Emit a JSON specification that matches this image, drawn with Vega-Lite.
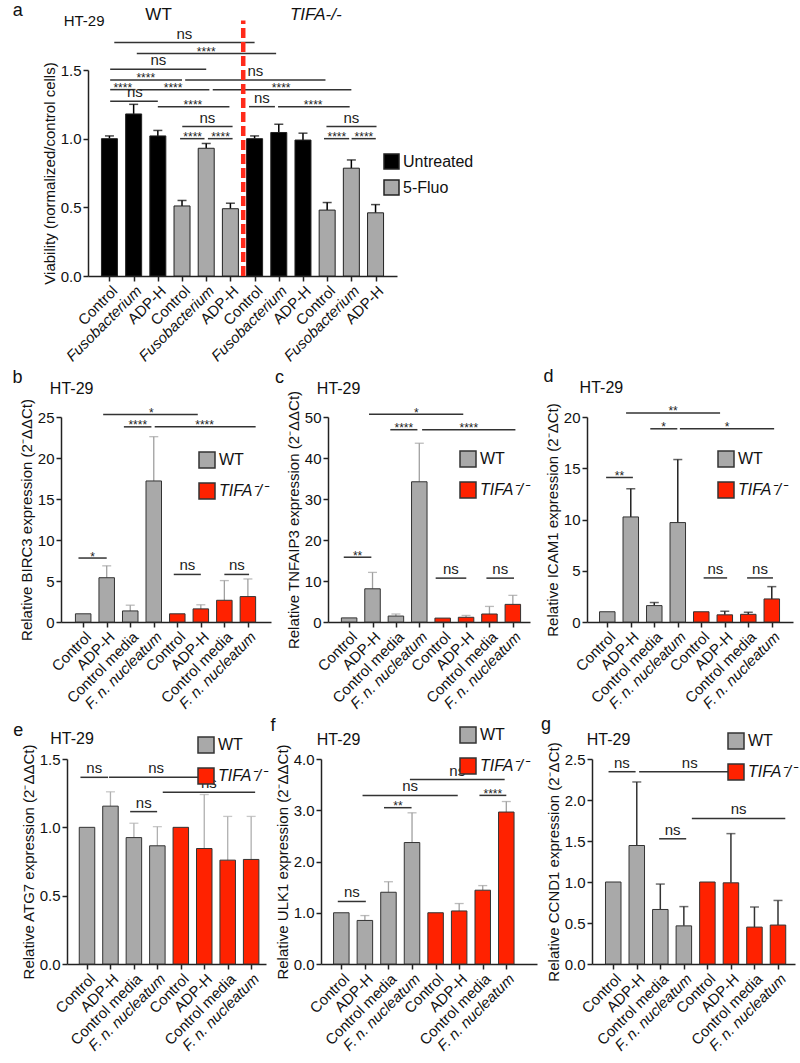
{
"$schema":"https://vega.github.io/schema/vega-lite/v6.json",
"padding":{"left":3,"top":2,"right":3,"bottom":5},
"config":{"view":{"stroke":null},"font":"Liberation Sans",
"axis":{"domainColor":"#222","domainWidth":1.5,"tickColor":"#222","tickWidth":1.5,"tickSize":5,"labelColor":"#111","labelFontSize":15,"titleFontSize":15,"titleFontWeight":"normal","titleColor":"#111","labelPadding":2,"grid":false},
"axisX":{"labelOverlap":false,"labelSeparation":-100,"tickCount":20},
"text":{"color":"#111"}},
"datasets":{
"a":[
{"i":1,"cond":"Control","geno":"WT","trt":"Untreated","mean":1.0,"upper":1.02},
{"i":2,"cond":"Fusobacterium","geno":"WT","trt":"Untreated","mean":1.18,"upper":1.25},
{"i":3,"cond":"ADP-H","geno":"WT","trt":"Untreated","mean":1.02,"upper":1.06},
{"i":4,"cond":"Control","geno":"WT","trt":"5-Fluo","mean":0.51,"upper":0.55},
{"i":5,"cond":"Fusobacterium","geno":"WT","trt":"5-Fluo","mean":0.93,"upper":0.965},
{"i":6,"cond":"ADP-H","geno":"WT","trt":"5-Fluo","mean":0.49,"upper":0.53},
{"i":7,"cond":"Control","geno":"TIFA-/-","trt":"Untreated","mean":1.0,"upper":1.02},
{"i":8,"cond":"Fusobacterium","geno":"TIFA-/-","trt":"Untreated","mean":1.045,"upper":1.105},
{"i":9,"cond":"ADP-H","geno":"TIFA-/-","trt":"Untreated","mean":0.99,"upper":1.04},
{"i":10,"cond":"Control","geno":"TIFA-/-","trt":"5-Fluo","mean":0.48,"upper":0.535},
{"i":11,"cond":"Fusobacterium","geno":"TIFA-/-","trt":"5-Fluo","mean":0.785,"upper":0.845},
{"i":12,"cond":"ADP-H","geno":"TIFA-/-","trt":"5-Fluo","mean":0.46,"upper":0.52}],
"a_sig":[
{"x1":1.2,"x2":7.0,"xm":4.1,"y":1.70,"label":"ns"},
{"x1":2.13,"x2":7.89,"xm":5.0,"y":1.62,"label":"****"},
{"x1":1.03,"x2":5.0,"xm":3.02,"y":1.505,"label":"ns"},
{"x1":1.03,"x2":4.0,"xm":2.5,"y":1.428,"label":"****"},
{"x1":4.13,"x2":9.93,"xm":7.03,"y":1.428,"label":"ns"},
{"x1":1.03,"x2":2.08,"xm":1.55,"y":1.357,"label":"****"},
{"x1":2.2,"x2":5.13,"xm":3.63,"y":1.357,"label":"****"},
{"x1":5.27,"x2":11.0,"xm":8.1,"y":1.357,"label":"****"},
{"x1":1.03,"x2":3.0,"xm":2.05,"y":1.272,"label":"ns"},
{"x1":3.0,"x2":5.96,"xm":4.45,"y":1.233,"label":"****"},
{"x1":6.77,"x2":7.84,"xm":7.3,"y":1.233,"label":"ns"},
{"x1":7.97,"x2":10.93,"xm":9.42,"y":1.233,"label":"****"},
{"x1":4.01,"x2":6.09,"xm":5.05,"y":1.088,"label":"ns"},
{"x1":3.92,"x2":4.93,"xm":4.44,"y":1.0,"label":"****"},
{"x1":5.07,"x2":6.09,"xm":5.59,"y":1.0,"label":"****"},
{"x1":9.97,"x2":12.04,"xm":11.0,"y":1.088,"label":"ns"},
{"x1":9.87,"x2":10.91,"xm":10.4,"y":1.0,"label":"****"},
{"x1":11.01,"x2":12.01,"xm":11.52,"y":1.0,"label":"****"}],
"b":[
{"i":1,"cond":"Control","geno":"WT","mean":1.0},
{"i":2,"cond":"ADP-H","geno":"WT","mean":5.4,"upper":6.85},
{"i":3,"cond":"Control media","geno":"WT","mean":1.35,"upper":2.05},
{"i":4,"cond":"F. n. nucleatum","geno":"WT","mean":17.2,"upper":22.6},
{"i":5,"cond":"Control","geno":"TIFA-/-","mean":1.0},
{"i":6,"cond":"ADP-H","geno":"TIFA-/-","mean":1.6,"upper":2.1},
{"i":7,"cond":"Control media","geno":"TIFA-/-","mean":2.65,"upper":5.05},
{"i":8,"cond":"F. n. nucleatum","geno":"TIFA-/-","mean":3.1,"upper":5.25}],
"b_sig":[
{"x1":0.8,"x2":2.0,"xm":1.4,"y":7.8,"label":"*"},
{"x1":4.85,"x2":6.0,"xm":5.43,"y":5.8,"label":"ns"},
{"x1":7.0,"x2":8.05,"xm":7.53,"y":5.8,"label":"ns"},
{"x1":1.85,"x2":5.87,"xm":3.9,"y":25.3,"label":"*"},
{"x1":2.73,"x2":3.9,"xm":3.32,"y":23.8,"label":"****"},
{"x1":4.04,"x2":8.33,"xm":6.16,"y":23.8,"label":"****"}],
"c":[
{"i":1,"cond":"Control","geno":"WT","mean":1.0},
{"i":2,"cond":"ADP-H","geno":"WT","mean":8.1,"upper":12.1},
{"i":3,"cond":"Control media","geno":"WT","mean":1.45,"upper":1.95},
{"i":4,"cond":"F. n. nucleatum","geno":"WT","mean":34.2,"upper":43.6},
{"i":5,"cond":"Control","geno":"TIFA-/-","mean":0.95},
{"i":6,"cond":"ADP-H","geno":"TIFA-/-","mean":1.15,"upper":1.6},
{"i":7,"cond":"Control media","geno":"TIFA-/-","mean":1.95,"upper":3.8},
{"i":8,"cond":"F. n. nucleatum","geno":"TIFA-/-","mean":4.3,"upper":6.5}],
"c_sig":[
{"x1":0.77,"x2":1.95,"xm":1.36,"y":15.8,"label":"**"},
{"x1":4.7,"x2":6.01,"xm":5.35,"y":10.7,"label":"ns"},
{"x1":6.87,"x2":8.05,"xm":7.46,"y":10.7,"label":"ns"},
{"x1":1.85,"x2":5.88,"xm":3.87,"y":50.7,"label":"*"},
{"x1":2.76,"x2":3.92,"xm":3.34,"y":46.9,"label":"****"},
{"x1":4.12,"x2":8.11,"xm":6.12,"y":46.9,"label":"****"}],
"d":[
{"i":1,"cond":"Control","geno":"WT","mean":1.0},
{"i":2,"cond":"ADP-H","geno":"WT","mean":10.25,"upper":13.0},
{"i":3,"cond":"Control media","geno":"WT","mean":1.6,"upper":1.9},
{"i":4,"cond":"F. n. nucleatum","geno":"WT","mean":9.7,"upper":15.85},
{"i":5,"cond":"Control","geno":"TIFA-/-","mean":1.0},
{"i":6,"cond":"ADP-H","geno":"TIFA-/-","mean":0.7,"upper":1.05},
{"i":7,"cond":"Control media","geno":"TIFA-/-","mean":0.75,"upper":0.95},
{"i":8,"cond":"F. n. nucleatum","geno":"TIFA-/-","mean":2.25,"upper":3.45}],
"d_sig":[
{"x1":0.95,"x2":2.09,"xm":1.52,"y":14.1,"label":"**"},
{"x1":5.1,"x2":6.1,"xm":5.6,"y":4.3,"label":"ns"},
{"x1":6.95,"x2":8.05,"xm":7.5,"y":4.3,"label":"ns"},
{"x1":1.8,"x2":5.8,"xm":3.8,"y":20.4,"label":"**"},
{"x1":2.83,"x2":3.98,"xm":3.4,"y":18.85,"label":"*"},
{"x1":4.09,"x2":8.1,"xm":6.1,"y":18.85,"label":"*"}],
"e":[
{"i":1,"cond":"Control","geno":"WT","mean":1.0},
{"i":2,"cond":"ADP-H","geno":"WT","mean":1.155,"upper":1.26},
{"i":3,"cond":"Control media","geno":"WT","mean":0.925,"upper":1.03},
{"i":4,"cond":"F. n. nucleatum","geno":"WT","mean":0.865,"upper":1.005},
{"i":5,"cond":"Control","geno":"TIFA-/-","mean":1.0},
{"i":6,"cond":"ADP-H","geno":"TIFA-/-","mean":0.845,"upper":1.24},
{"i":7,"cond":"Control media","geno":"TIFA-/-","mean":0.76,"upper":1.08},
{"i":8,"cond":"F. n. nucleatum","geno":"TIFA-/-","mean":0.765,"upper":1.08}],
"e_sig":[
{"x1":0.72,"x2":1.9,"xm":1.31,"y":1.366,"label":"ns"},
{"x1":1.94,"x2":5.95,"xm":3.95,"y":1.366,"label":"ns"},
{"x1":4.23,"x2":8.17,"xm":6.2,"y":1.256,"label":"ns"},
{"x1":2.84,"x2":3.99,"xm":3.42,"y":1.115,"label":"ns"}],
"f":[
{"i":1,"cond":"Control","geno":"WT","mean":1.0},
{"i":2,"cond":"ADP-H","geno":"WT","mean":0.85,"upper":0.945},
{"i":3,"cond":"Control media","geno":"WT","mean":1.4,"upper":1.605},
{"i":4,"cond":"F. n. nucleatum","geno":"WT","mean":2.37,"upper":2.95},
{"i":5,"cond":"Control","geno":"TIFA-/-","mean":1.0},
{"i":6,"cond":"ADP-H","geno":"TIFA-/-","mean":1.035,"upper":1.18},
{"i":7,"cond":"Control media","geno":"TIFA-/-","mean":1.44,"upper":1.53},
{"i":8,"cond":"F. n. nucleatum","geno":"TIFA-/-","mean":2.965,"upper":3.17}],
"f_sig":[
{"x1":0.85,"x2":2.04,"xm":1.45,"y":1.22,"label":"ns"},
{"x1":2.81,"x2":3.98,"xm":3.4,"y":3.05,"label":"**"},
{"x1":1.9,"x2":5.94,"xm":3.92,"y":3.29,"label":"ns"},
{"x1":6.86,"x2":8.0,"xm":7.43,"y":3.29,"label":"****"},
{"x1":3.91,"x2":7.93,"xm":5.92,"y":3.6,"label":"ns"}],
"g":[
{"i":1,"cond":"Control","geno":"WT","mean":1.0},
{"i":2,"cond":"ADP-H","geno":"WT","mean":1.445,"upper":2.22},
{"i":3,"cond":"Control media","geno":"WT","mean":0.665,"upper":0.975},
{"i":4,"cond":"F. n. nucleatum","geno":"WT","mean":0.465,"upper":0.7},
{"i":5,"cond":"Control","geno":"TIFA-/-","mean":1.0},
{"i":6,"cond":"ADP-H","geno":"TIFA-/-","mean":0.99,"upper":1.59},
{"i":7,"cond":"Control media","geno":"TIFA-/-","mean":0.45,"upper":0.695},
{"i":8,"cond":"F. n. nucleatum","geno":"TIFA-/-","mean":0.475,"upper":0.775}],
"g_sig":[
{"x1":2.95,"x2":4.1,"xm":3.52,"y":1.527,"label":"ns"},
{"x1":4.34,"x2":8.31,"xm":6.33,"y":1.775,"label":"ns"},
{"x1":0.8,"x2":1.95,"xm":1.37,"y":2.345,"label":"ns"},
{"x1":2.1,"x2":6.4,"xm":4.25,"y":2.345,"label":"ns"}],
"empty":[]
},
"spacing":4,
"resolve":{"scale":{"color":"independent"},"legend":{"color":"independent"}},
"vconcat":[
{"hconcat":[
{"width":28,"height":1,"data":{"name":"empty"},"mark":{"type":"point","opacity":0},"encoding":{}},
{"width":309,"height":206,
"layer":[
{"data":{"name":"a"},"mark":{"type":"rule","color":"#000","strokeWidth":1.5},
"encoding":{"x":{"field":"i","type":"quantitative","scale":{"domain":[0.32,12.68],"nice":false,"zero":false},
"axis":{"title":null,"values":[1,2,3,4,5,6,7,8,9,10,11,12],"tickCount":20,"labelExpr":"['','Control','Fusobacterium','ADP-H','Control','Fusobacterium','ADP-H','Control','Fusobacterium','ADP-H','Control','Fusobacterium','ADP-H'][datum.value]","labelAngle":-45,"labelAlign":"right","labelBaseline":"top","labelFontSize":15,"labelFontStyle":{"condition":{"test":"datum.value==2||datum.value==5||datum.value==8||datum.value==11","value":"italic"},"value":"normal"},"labelFlush":false,"labelOverlap":false,"labelSeparation":-100}},
"y":{"field":"mean","type":"quantitative","scale":{"domain":[0,1.5],"nice":false},"axis":{"title":"Viability (normalized/control cells)","values":[0,0.5,1,1.5],"format":".1f","titlePadding":3}},
"y2":{"field":"upper"}}},
{"data":{"name":"a"},"mark":{"type":"tick","orient":"horizontal","color":"#000","size":9,"thickness":1.5},
"encoding":{"x":{"field":"i","type":"quantitative","scale":{"domain":[0.32,12.68],"nice":false,"zero":false}},"y":{"field":"upper","type":"quantitative","scale":{"domain":[0,1.5],"nice":false}}}},
{"data":{"name":"a"},"mark":{"type":"bar","width":16,"stroke":"#222","strokeWidth":1},
"encoding":{"x":{"field":"i","type":"quantitative","scale":{"domain":[0.32,12.68],"nice":false,"zero":false}},"y":{"field":"mean","type":"quantitative","scale":{"domain":[0,1.5],"nice":false}},
"color":{"field":"trt","type":"nominal","scale":{"domain":["Untreated","5-Fluo"],"range":["#000000","#a9a9a9"]},
"legend":{"orient":"none","legendX":295,"legendY":83,"title":null,"symbolType":"square","symbolSize":225,"symbolStrokeColor":"#222","symbolStrokeWidth":1.5,"labelFontSize":16,"labelOffset":3,"rowPadding":5,"padding":0,"labelColor":"#111"}}}},
{"data":{"name":"a_sig"},"mark":{"type":"rule","color":"#333","strokeWidth":1.5},
"encoding":{"x":{"field":"x1","type":"quantitative","scale":{"domain":[0.32,12.68],"nice":false,"zero":false}},"x2":{"field":"x2"},"y":{"field":"y","type":"quantitative","scale":{"domain":[0,1.5],"nice":false}}}},
{"data":{"name":"a_sig"},"transform":[{"filter":"datum.label=='ns'"}],"mark":{"type":"text","fontSize":15,"baseline":"alphabetic","dy":-4,"color":"#222"},
"encoding":{"x":{"field":"xm","type":"quantitative","scale":{"domain":[0.32,12.68],"nice":false,"zero":false}},"y":{"field":"y","type":"quantitative","scale":{"domain":[0,1.5],"nice":false}},"text":{"field":"label"}}},
{"data":{"name":"a_sig"},"transform":[{"filter":"datum.label!='ns'"}],"mark":{"type":"text","fontSize":12,"baseline":"alphabetic","dy":2.5,"color":"#222"},
"encoding":{"x":{"field":"xm","type":"quantitative","scale":{"domain":[0.32,12.68],"nice":false,"zero":false}},"y":{"field":"y","type":"quantitative","scale":{"domain":[0,1.5],"nice":false}},"text":{"field":"label"}}},
{"data":{"values":[{"x":6.53,"y0":0,"y1":1.86}]},"mark":{"type":"rule","color":"#ff2a1a","strokeWidth":4.5,"strokeDash":[10,4]},
"encoding":{"x":{"field":"x","type":"quantitative","scale":{"domain":[0.32,12.68],"nice":false,"zero":false}},"y":{"field":"y0","type":"quantitative","scale":{"domain":[0,1.5],"nice":false}},"y2":{"field":"y1"}}},
{"data":{"values":[{"x":3.03,"y":1.90,"t":"WT"}]},"mark":{"type":"text","fontSize":17,"baseline":"middle"},
"encoding":{"x":{"field":"x","type":"quantitative","scale":{"domain":[0.32,12.68],"nice":false,"zero":false}},"y":{"field":"y","type":"quantitative","scale":{"domain":[0,1.5],"nice":false}},"text":{"field":"t"}}},
{"data":{"values":[{"x":9.53,"y":1.90,"t":"TIFA-/-"}]},"mark":{"type":"text","fontSize":17,"fontStyle":"italic","baseline":"middle"},
"encoding":{"x":{"field":"x","type":"quantitative","scale":{"domain":[0.32,12.68],"nice":false,"zero":false}},"y":{"field":"y","type":"quantitative","scale":{"domain":[0,1.5],"nice":false}},"text":{"field":"t"}}},
{"data":{"values":[{"x":-0.05,"y":1.86,"t":"HT-29"}]},"mark":{"type":"text","fontSize":15,"baseline":"middle"},
"encoding":{"x":{"field":"x","type":"quantitative","scale":{"domain":[0.32,12.68],"nice":false,"zero":false}},"y":{"field":"y","type":"quantitative","scale":{"domain":[0,1.5],"nice":false}},"text":{"field":"t"}}},
{"data":{"values":[{"x":-3.0,"y":1.89,"t":"a"}]},"mark":{"type":"text","fontSize":18,"align":"left","baseline":"alphabetic"},
"encoding":{"x":{"field":"x","type":"quantitative","scale":{"domain":[0.32,12.68],"nice":false,"zero":false}},"y":{"field":"y","type":"quantitative","scale":{"domain":[0,1.5],"nice":false}},"text":{"field":"t"}}}
]}
],"spacing":57,"bounds":"flush","resolve":{"scale":{"color":"independent"},"legend":{"color":"independent"}}},
{"hconcat":[
{"width":1,"height":1,"data":{"name":"empty"},"mark":{"type":"point","opacity":0},"encoding":{}},
{"width":210,"height":205,"layer":[
{"data":{"name":"b"},"transform":[{"filter":"isValid(datum.upper)"}],"mark":{"type":"rule","color":"#a0a0a0","strokeWidth":1.3},
"encoding":{"x":{"field":"i","type":"quantitative","scale":{"domain":[0.27,8.77],"nice":false,"zero":false},
"axis":{"title":null,"values":[1,2,3,4,5,6,7,8],"tickCount":20,"labelExpr":"['','Control','ADP-H','Control media','F. n. nucleatum','Control','ADP-H','Control media','F. n. nucleatum'][datum.value]","labelAngle":-45,"labelAlign":"right","labelBaseline":"top","labelFontSize":15,"labelFontStyle":{"condition":{"test":"datum.value==4||datum.value==8","value":"italic"},"value":"normal"},"labelFlush":false,"labelOverlap":false,"labelSeparation":-100}},
"y":{"field":"mean","type":"quantitative","scale":{"domain":[0,25],"nice":false},"axis":{"title":"Relative BIRC3 expression (2⁻ΔΔCt)","values":[0,5,10,15,20,25],"titlePadding":3}},
"y2":{"field":"upper"}}},
{"data":{"name":"b"},"transform":[{"filter":"isValid(datum.upper)"}],"mark":{"type":"tick","orient":"horizontal","color":"#a0a0a0","size":9,"thickness":1.3},
"encoding":{"x":{"field":"i","type":"quantitative","scale":{"domain":[0.27,8.77],"nice":false,"zero":false}},"y":{"field":"upper","type":"quantitative","scale":{"domain":[0,25],"nice":false}}}},
{"data":{"name":"b"},"mark":{"type":"bar","width":15.5,"stroke":"#333","strokeWidth":1},
"encoding":{"x":{"field":"i","type":"quantitative","scale":{"domain":[0.27,8.77],"nice":false,"zero":false}},"y":{"field":"mean","type":"quantitative","scale":{"domain":[0,25],"nice":false}},
"color":{"field":"geno","type":"nominal","scale":{"domain":["WT","TIFA-/-"],"range":["#a9a9a9","#ff2200"]},
"legend":{"orient":"none","legendX":137,"legendY":34,"title":null,"symbolType":"square","symbolSize":256,"symbolStrokeColor":"#333","symbolStrokeWidth":1.5,"labelFontSize":16,"labelOffset":3,"rowPadding":9,"padding":0,"labelColor":"#111","labelExpr":"datum.value == 'WT' ? 'WT' : 'TIFA⁻/⁻'","encode":{"labels":{"update":{"fontStyle":{"signal":"datum.value == 'WT' ? 'normal' : 'italic'"}}}}}}}},
{"data":{"name":"b_sig"},"mark":{"type":"rule","color":"#333","strokeWidth":1.5},
"encoding":{"x":{"field":"x1","type":"quantitative","scale":{"domain":[0.27,8.77],"nice":false,"zero":false}},"x2":{"field":"x2"},"y":{"field":"y","type":"quantitative","scale":{"domain":[0,25],"nice":false}}}},
{"data":{"name":"b_sig"},"transform":[{"filter":"datum.label=='ns'"}],"mark":{"type":"text","fontSize":15,"baseline":"alphabetic","dy":-4,"color":"#222"},
"encoding":{"x":{"field":"xm","type":"quantitative","scale":{"domain":[0.27,8.77],"nice":false,"zero":false}},"y":{"field":"y","type":"quantitative","scale":{"domain":[0,25],"nice":false}},"text":{"field":"label"}}},
{"data":{"name":"b_sig"},"transform":[{"filter":"datum.label!='ns'"}],"mark":{"type":"text","fontSize":12,"baseline":"alphabetic","dy":2.5,"color":"#222"},
"encoding":{"x":{"field":"xm","type":"quantitative","scale":{"domain":[0.27,8.77],"nice":false,"zero":false}},"y":{"field":"y","type":"quantitative","scale":{"domain":[0,25],"nice":false}},"text":{"field":"label"}}},
{"data":{"values":[{"x":0.51,"y":28.4,"t":"HT-29"}]},"mark":{"type":"text","fontSize":16,"baseline":"middle"},
"encoding":{"x":{"field":"x","type":"quantitative","scale":{"domain":[0.27,8.77],"nice":false,"zero":false}},"y":{"field":"y","type":"quantitative","scale":{"domain":[0,25],"nice":false}},"text":{"field":"t"}}},
{"data":{"values":[{"x":-2.0,"y":29.12,"t":"b"}]},"mark":{"type":"text","fontSize":18,"align":"left","baseline":"alphabetic"},
"encoding":{"x":{"field":"x","type":"quantitative","scale":{"domain":[0.27,8.77],"nice":false,"zero":false}},"y":{"field":"y","type":"quantitative","scale":{"domain":[0,25],"nice":false}},"text":{"field":"t"}}}
]},
{"width":202,"height":205,"layer":[
{"data":{"name":"c"},"transform":[{"filter":"isValid(datum.upper)"}],"mark":{"type":"rule","color":"#a0a0a0","strokeWidth":1.3},
"encoding":{"x":{"field":"i","type":"quantitative","scale":{"domain":[0.31,8.52],"nice":false,"zero":false},
"axis":{"title":null,"values":[1,2,3,4,5,6,7,8],"tickCount":20,"labelExpr":"['','Control','ADP-H','Control media','F. n. nucleatum','Control','ADP-H','Control media','F. n. nucleatum'][datum.value]","labelAngle":-45,"labelAlign":"right","labelBaseline":"top","labelFontSize":15,"labelFontStyle":{"condition":{"test":"datum.value==4||datum.value==8","value":"italic"},"value":"normal"},"labelFlush":false,"labelOverlap":false,"labelSeparation":-100}},
"y":{"field":"mean","type":"quantitative","scale":{"domain":[0,50],"nice":false},"axis":{"title":"Relative TNFAIP3 expression (2⁻ΔΔCt)","values":[0,10,20,30,40,50],"titlePadding":3}},
"y2":{"field":"upper"}}},
{"data":{"name":"c"},"transform":[{"filter":"isValid(datum.upper)"}],"mark":{"type":"tick","orient":"horizontal","color":"#a0a0a0","size":9,"thickness":1.3},
"encoding":{"x":{"field":"i","type":"quantitative","scale":{"domain":[0.31,8.52],"nice":false,"zero":false}},"y":{"field":"upper","type":"quantitative","scale":{"domain":[0,50],"nice":false}}}},
{"data":{"name":"c"},"mark":{"type":"bar","width":15.5,"stroke":"#333","strokeWidth":1},
"encoding":{"x":{"field":"i","type":"quantitative","scale":{"domain":[0.31,8.52],"nice":false,"zero":false}},"y":{"field":"mean","type":"quantitative","scale":{"domain":[0,50],"nice":false}},
"color":{"field":"geno","type":"nominal","scale":{"domain":["WT","TIFA-/-"],"range":["#a9a9a9","#ff2200"]},
"legend":{"orient":"none","legendX":131,"legendY":33,"title":null,"symbolType":"square","symbolSize":256,"symbolStrokeColor":"#333","symbolStrokeWidth":1.5,"labelFontSize":16,"labelOffset":3,"rowPadding":9,"padding":0,"labelColor":"#111","labelExpr":"datum.value == 'WT' ? 'WT' : 'TIFA⁻/⁻'","encode":{"labels":{"update":{"fontStyle":{"signal":"datum.value == 'WT' ? 'normal' : 'italic'"}}}}}}}},
{"data":{"name":"c_sig"},"mark":{"type":"rule","color":"#333","strokeWidth":1.5},
"encoding":{"x":{"field":"x1","type":"quantitative","scale":{"domain":[0.31,8.52],"nice":false,"zero":false}},"x2":{"field":"x2"},"y":{"field":"y","type":"quantitative","scale":{"domain":[0,50],"nice":false}}}},
{"data":{"name":"c_sig"},"transform":[{"filter":"datum.label=='ns'"}],"mark":{"type":"text","fontSize":15,"baseline":"alphabetic","dy":-4,"color":"#222"},
"encoding":{"x":{"field":"xm","type":"quantitative","scale":{"domain":[0.31,8.52],"nice":false,"zero":false}},"y":{"field":"y","type":"quantitative","scale":{"domain":[0,50],"nice":false}},"text":{"field":"label"}}},
{"data":{"name":"c_sig"},"transform":[{"filter":"datum.label!='ns'"}],"mark":{"type":"text","fontSize":12,"baseline":"alphabetic","dy":2.5,"color":"#222"},
"encoding":{"x":{"field":"xm","type":"quantitative","scale":{"domain":[0.31,8.52],"nice":false,"zero":false}},"y":{"field":"y","type":"quantitative","scale":{"domain":[0,50],"nice":false}},"text":{"field":"label"}}},
{"data":{"values":[{"x":0.55,"y":56.8,"t":"HT-29"}]},"mark":{"type":"text","fontSize":16,"baseline":"middle"},
"encoding":{"x":{"field":"x","type":"quantitative","scale":{"domain":[0.31,8.52],"nice":false,"zero":false}},"y":{"field":"y","type":"quantitative","scale":{"domain":[0,50],"nice":false}},"text":{"field":"t"}}},
{"data":{"values":[{"x":-2.17,"y":58.25,"t":"c"}]},"mark":{"type":"text","fontSize":18,"align":"left","baseline":"alphabetic"},
"encoding":{"x":{"field":"x","type":"quantitative","scale":{"domain":[0.31,8.52],"nice":false,"zero":false}},"y":{"field":"y","type":"quantitative","scale":{"domain":[0,50],"nice":false}},"text":{"field":"t"}}}
]},
{"width":206,"height":205,"layer":[
{"data":{"name":"d"},"transform":[{"filter":"isValid(datum.upper)"}],"mark":{"type":"rule","color":"#222","strokeWidth":1.5},
"encoding":{"x":{"field":"i","type":"quantitative","scale":{"domain":[0.35,8.69],"nice":false,"zero":false},
"axis":{"title":null,"values":[1,2,3,4,5,6,7,8],"tickCount":20,"labelExpr":"['','Control','ADP-H','Control media','F. n. nucleatum','Control','ADP-H','Control media','F. n. nucleatum'][datum.value]","labelAngle":-45,"labelAlign":"right","labelBaseline":"top","labelFontSize":15,"labelFontStyle":{"condition":{"test":"datum.value==4||datum.value==8","value":"italic"},"value":"normal"},"labelFlush":false,"labelOverlap":false,"labelSeparation":-100}},
"y":{"field":"mean","type":"quantitative","scale":{"domain":[0,20],"nice":false},"axis":{"title":"Relative ICAM1 expression (2⁻ΔCt)","values":[0,5,10,15,20],"titlePadding":3}},
"y2":{"field":"upper"}}},
{"data":{"name":"d"},"transform":[{"filter":"isValid(datum.upper)"}],"mark":{"type":"tick","orient":"horizontal","color":"#222","size":9,"thickness":1.5},
"encoding":{"x":{"field":"i","type":"quantitative","scale":{"domain":[0.35,8.69],"nice":false,"zero":false}},"y":{"field":"upper","type":"quantitative","scale":{"domain":[0,20],"nice":false}}}},
{"data":{"name":"d"},"mark":{"type":"bar","width":15.5,"stroke":"#333","strokeWidth":1},
"encoding":{"x":{"field":"i","type":"quantitative","scale":{"domain":[0.35,8.69],"nice":false,"zero":false}},"y":{"field":"mean","type":"quantitative","scale":{"domain":[0,20],"nice":false}},
"color":{"field":"geno","type":"nominal","scale":{"domain":["WT","TIFA-/-"],"range":["#a9a9a9","#ff2200"]},
"legend":{"orient":"none","legendX":130,"legendY":33,"title":null,"symbolType":"square","symbolSize":256,"symbolStrokeColor":"#333","symbolStrokeWidth":1.5,"labelFontSize":16,"labelOffset":3,"rowPadding":9,"padding":0,"labelColor":"#111","labelExpr":"datum.value == 'WT' ? 'WT' : 'TIFA⁻/⁻'","encode":{"labels":{"update":{"fontStyle":{"signal":"datum.value == 'WT' ? 'normal' : 'italic'"}}}}}}}},
{"data":{"name":"d_sig"},"mark":{"type":"rule","color":"#333","strokeWidth":1.5},
"encoding":{"x":{"field":"x1","type":"quantitative","scale":{"domain":[0.35,8.69],"nice":false,"zero":false}},"x2":{"field":"x2"},"y":{"field":"y","type":"quantitative","scale":{"domain":[0,20],"nice":false}}}},
{"data":{"name":"d_sig"},"transform":[{"filter":"datum.label=='ns'"}],"mark":{"type":"text","fontSize":15,"baseline":"alphabetic","dy":-4,"color":"#222"},
"encoding":{"x":{"field":"xm","type":"quantitative","scale":{"domain":[0.35,8.69],"nice":false,"zero":false}},"y":{"field":"y","type":"quantitative","scale":{"domain":[0,20],"nice":false}},"text":{"field":"label"}}},
{"data":{"name":"d_sig"},"transform":[{"filter":"datum.label!='ns'"}],"mark":{"type":"text","fontSize":12,"baseline":"alphabetic","dy":2.5,"color":"#222"},
"encoding":{"x":{"field":"xm","type":"quantitative","scale":{"domain":[0.35,8.69],"nice":false,"zero":false}},"y":{"field":"y","type":"quantitative","scale":{"domain":[0,20],"nice":false}},"text":{"field":"label"}}},
{"data":{"values":[{"x":0.75,"y":22.84,"t":"HT-29"}]},"mark":{"type":"text","fontSize":16,"baseline":"middle"},
"encoding":{"x":{"field":"x","type":"quantitative","scale":{"domain":[0.35,8.69],"nice":false,"zero":false}},"y":{"field":"y","type":"quantitative","scale":{"domain":[0,20],"nice":false}},"text":{"field":"t"}}},
{"data":{"values":[{"x":-1.71,"y":23.41,"t":"d"}]},"mark":{"type":"text","fontSize":18,"align":"left","baseline":"alphabetic"},
"encoding":{"x":{"field":"x","type":"quantitative","scale":{"domain":[0.35,8.69],"nice":false,"zero":false}},"y":{"field":"y","type":"quantitative","scale":{"domain":[0,20],"nice":false}},"text":{"field":"t"}}}
]}
],"spacing":57,"bounds":"flush","resolve":{"scale":{"color":"independent"},"legend":{"color":"independent"}}},
{"hconcat":[
{"width":9,"height":1,"data":{"name":"empty"},"mark":{"type":"point","opacity":0},"encoding":{}},
{"width":199,"height":205,"layer":[
{"data":{"name":"e"},"transform":[{"filter":"isValid(datum.upper)"}],"mark":{"type":"rule","color":"#b0b0b0","strokeWidth":1.3},
"encoding":{"x":{"field":"i","type":"quantitative","scale":{"domain":[0.36,8.42],"nice":false,"zero":false},
"axis":{"title":null,"values":[1,2,3,4,5,6,7,8],"tickCount":20,"labelExpr":"['','Control','ADP-H','Control media','F. n. nucleatum','Control','ADP-H','Control media','F. n. nucleatum'][datum.value]","labelAngle":-45,"labelAlign":"right","labelBaseline":"top","labelFontSize":15,"labelFontStyle":{"condition":{"test":"datum.value==4||datum.value==8","value":"italic"},"value":"normal"},"labelFlush":false,"labelOverlap":false,"labelSeparation":-100}},
"y":{"field":"mean","type":"quantitative","scale":{"domain":[0,1.5],"nice":false},"axis":{"title":"Relative ATG7 expression (2⁻ΔΔCt)","values":[0,0.5,1,1.5],"format":".1f","titlePadding":3}},
"y2":{"field":"upper"}}},
{"data":{"name":"e"},"transform":[{"filter":"isValid(datum.upper)"}],"mark":{"type":"tick","orient":"horizontal","color":"#b0b0b0","size":9,"thickness":1.3},
"encoding":{"x":{"field":"i","type":"quantitative","scale":{"domain":[0.36,8.42],"nice":false,"zero":false}},"y":{"field":"upper","type":"quantitative","scale":{"domain":[0,1.5],"nice":false}}}},
{"data":{"name":"e"},"mark":{"type":"bar","width":15.5,"stroke":"#333","strokeWidth":1},
"encoding":{"x":{"field":"i","type":"quantitative","scale":{"domain":[0.36,8.42],"nice":false,"zero":false}},"y":{"field":"mean","type":"quantitative","scale":{"domain":[0,1.5],"nice":false}},
"color":{"field":"geno","type":"nominal","scale":{"domain":["WT","TIFA-/-"],"range":["#a9a9a9","#ff2200"]},
"legend":{"orient":"none","legendX":130,"legendY":-23,"title":null,"symbolType":"square","symbolSize":256,"symbolStrokeColor":"#333","symbolStrokeWidth":1.5,"labelFontSize":16,"labelOffset":3,"rowPadding":9,"padding":0,"labelColor":"#111","labelExpr":"datum.value == 'WT' ? 'WT' : 'TIFA⁻/⁻'","encode":{"labels":{"update":{"fontStyle":{"signal":"datum.value == 'WT' ? 'normal' : 'italic'"}}}}}}}},
{"data":{"name":"e_sig"},"mark":{"type":"rule","color":"#333","strokeWidth":1.5},
"encoding":{"x":{"field":"x1","type":"quantitative","scale":{"domain":[0.36,8.42],"nice":false,"zero":false}},"x2":{"field":"x2"},"y":{"field":"y","type":"quantitative","scale":{"domain":[0,1.5],"nice":false}}}},
{"data":{"name":"e_sig"},"transform":[{"filter":"datum.label=='ns'"}],"mark":{"type":"text","fontSize":15,"baseline":"alphabetic","dy":-4,"color":"#222"},
"encoding":{"x":{"field":"xm","type":"quantitative","scale":{"domain":[0.36,8.42],"nice":false,"zero":false}},"y":{"field":"y","type":"quantitative","scale":{"domain":[0,1.5],"nice":false}},"text":{"field":"label"}}},
{"data":{"values":[{"x":0.36,"y":1.644,"t":"HT-29"}]},"mark":{"type":"text","fontSize":16,"baseline":"middle"},
"encoding":{"x":{"field":"x","type":"quantitative","scale":{"domain":[0.36,8.42],"nice":false,"zero":false}},"y":{"field":"y","type":"quantitative","scale":{"domain":[0,1.5],"nice":false}},"text":{"field":"t"}}},
{"data":{"values":[{"x":-2.15,"y":1.67,"t":"e"}]},"mark":{"type":"text","fontSize":18,"align":"left","baseline":"alphabetic"},
"encoding":{"x":{"field":"x","type":"quantitative","scale":{"domain":[0.36,8.42],"nice":false,"zero":false}},"y":{"field":"y","type":"quantitative","scale":{"domain":[0,1.5],"nice":false}},"text":{"field":"t"}}}
]},
{"width":216,"height":205,"layer":[
{"data":{"name":"f"},"transform":[{"filter":"isValid(datum.upper)"}],"mark":{"type":"rule","color":"#a0a0a0","strokeWidth":1.3},
"encoding":{"x":{"field":"i","type":"quantitative","scale":{"domain":[0.35,9.09],"nice":false,"zero":false},
"axis":{"title":null,"values":[1,2,3,4,5,6,7,8],"tickCount":20,"labelExpr":"['','Control','ADP-H','Control media','F. n. nucleatum','Control','ADP-H','Control media','F. n. nucleatum'][datum.value]","labelAngle":-45,"labelAlign":"right","labelBaseline":"top","labelFontSize":15,"labelFontStyle":{"condition":{"test":"datum.value==4||datum.value==8","value":"italic"},"value":"normal"},"labelFlush":false,"labelOverlap":false,"labelSeparation":-100}},
"y":{"field":"mean","type":"quantitative","scale":{"domain":[0,4],"nice":false},"axis":{"title":"Relative ULK1 expression (2⁻ΔΔCt)","values":[0,1,2,3,4],"titlePadding":3}},
"y2":{"field":"upper"}}},
{"data":{"name":"f"},"transform":[{"filter":"isValid(datum.upper)"}],"mark":{"type":"tick","orient":"horizontal","color":"#a0a0a0","size":9,"thickness":1.3},
"encoding":{"x":{"field":"i","type":"quantitative","scale":{"domain":[0.35,9.09],"nice":false,"zero":false}},"y":{"field":"upper","type":"quantitative","scale":{"domain":[0,4],"nice":false}}}},
{"data":{"name":"f"},"mark":{"type":"bar","width":15.5,"stroke":"#333","strokeWidth":1},
"encoding":{"x":{"field":"i","type":"quantitative","scale":{"domain":[0.35,9.09],"nice":false,"zero":false}},"y":{"field":"mean","type":"quantitative","scale":{"domain":[0,4],"nice":false}},
"color":{"field":"geno","type":"nominal","scale":{"domain":["WT","TIFA-/-"],"range":["#a9a9a9","#ff2200"]},
"legend":{"orient":"none","legendX":138,"legendY":-33,"title":null,"symbolType":"square","symbolSize":256,"symbolStrokeColor":"#333","symbolStrokeWidth":1.5,"labelFontSize":16,"labelOffset":3,"rowPadding":9,"padding":0,"labelColor":"#111","labelExpr":"datum.value == 'WT' ? 'WT' : 'TIFA⁻/⁻'","encode":{"labels":{"update":{"fontStyle":{"signal":"datum.value == 'WT' ? 'normal' : 'italic'"}}}}}}}},
{"data":{"name":"f_sig"},"mark":{"type":"rule","color":"#333","strokeWidth":1.5},
"encoding":{"x":{"field":"x1","type":"quantitative","scale":{"domain":[0.35,9.09],"nice":false,"zero":false}},"x2":{"field":"x2"},"y":{"field":"y","type":"quantitative","scale":{"domain":[0,4],"nice":false}}}},
{"data":{"name":"f_sig"},"transform":[{"filter":"datum.label=='ns'"}],"mark":{"type":"text","fontSize":15,"baseline":"alphabetic","dy":-4,"color":"#222"},
"encoding":{"x":{"field":"xm","type":"quantitative","scale":{"domain":[0.35,9.09],"nice":false,"zero":false}},"y":{"field":"y","type":"quantitative","scale":{"domain":[0,4],"nice":false}},"text":{"field":"label"}}},
{"data":{"name":"f_sig"},"transform":[{"filter":"datum.label!='ns'"}],"mark":{"type":"text","fontSize":12,"baseline":"alphabetic","dy":2.5,"color":"#222"},
"encoding":{"x":{"field":"xm","type":"quantitative","scale":{"domain":[0.35,9.09],"nice":false,"zero":false}},"y":{"field":"y","type":"quantitative","scale":{"domain":[0,4],"nice":false}},"text":{"field":"label"}}},
{"data":{"values":[{"x":0.88,"y":4.37,"t":"HT-29"}]},"mark":{"type":"text","fontSize":16,"baseline":"middle"},
"encoding":{"x":{"field":"x","type":"quantitative","scale":{"domain":[0.35,9.09],"nice":false,"zero":false}},"y":{"field":"y","type":"quantitative","scale":{"domain":[0,4],"nice":false}},"text":{"field":"t"}}},
{"data":{"values":[{"x":-2.0,"y":4.554,"t":"f"}]},"mark":{"type":"text","fontSize":18,"align":"left","baseline":"alphabetic"},
"encoding":{"x":{"field":"x","type":"quantitative","scale":{"domain":[0.35,9.09],"nice":false,"zero":false}},"y":{"field":"y","type":"quantitative","scale":{"domain":[0,4],"nice":false}},"text":{"field":"t"}}}
]},
{"width":203,"height":205,"layer":[
{"data":{"name":"g"},"transform":[{"filter":"isValid(datum.upper)"}],"mark":{"type":"rule","color":"#333","strokeWidth":1.5},
"encoding":{"x":{"field":"i","type":"quantitative","scale":{"domain":[0.31,8.51],"nice":false,"zero":false},
"axis":{"title":null,"values":[1,2,3,4,5,6,7,8],"tickCount":20,"labelExpr":"['','Control','ADP-H','Control media','F. n. nucleatum','Control','ADP-H','Control media','F. n. nucleatum'][datum.value]","labelAngle":-45,"labelAlign":"right","labelBaseline":"top","labelFontSize":15,"labelFontStyle":{"condition":{"test":"datum.value==4||datum.value==8","value":"italic"},"value":"normal"},"labelFlush":false,"labelOverlap":false,"labelSeparation":-100}},
"y":{"field":"mean","type":"quantitative","scale":{"domain":[0,2.5],"nice":false},"axis":{"title":"Relative CCND1 expression (2⁻ΔCt)","values":[0,0.5,1,1.5,2,2.5],"format":".1f","titlePadding":3}},
"y2":{"field":"upper"}}},
{"data":{"name":"g"},"transform":[{"filter":"isValid(datum.upper)"}],"mark":{"type":"tick","orient":"horizontal","color":"#333","size":9,"thickness":1.5},
"encoding":{"x":{"field":"i","type":"quantitative","scale":{"domain":[0.31,8.51],"nice":false,"zero":false}},"y":{"field":"upper","type":"quantitative","scale":{"domain":[0,2.5],"nice":false}}}},
{"data":{"name":"g"},"mark":{"type":"bar","width":15.5,"stroke":"#333","strokeWidth":1},
"encoding":{"x":{"field":"i","type":"quantitative","scale":{"domain":[0.31,8.51],"nice":false,"zero":false}},"y":{"field":"mean","type":"quantitative","scale":{"domain":[0,2.5],"nice":false}},
"color":{"field":"geno","type":"nominal","scale":{"domain":["WT","TIFA-/-"],"range":["#a9a9a9","#ff2200"]},
"legend":{"orient":"none","legendX":135,"legendY":-27,"title":null,"symbolType":"square","symbolSize":256,"symbolStrokeColor":"#333","symbolStrokeWidth":1.5,"labelFontSize":16,"labelOffset":3,"rowPadding":9,"padding":0,"labelColor":"#111","labelExpr":"datum.value == 'WT' ? 'WT' : 'TIFA⁻/⁻'","encode":{"labels":{"update":{"fontStyle":{"signal":"datum.value == 'WT' ? 'normal' : 'italic'"}}}}}}}},
{"data":{"name":"g_sig"},"mark":{"type":"rule","color":"#333","strokeWidth":1.5},
"encoding":{"x":{"field":"x1","type":"quantitative","scale":{"domain":[0.31,8.51],"nice":false,"zero":false}},"x2":{"field":"x2"},"y":{"field":"y","type":"quantitative","scale":{"domain":[0,2.5],"nice":false}}}},
{"data":{"name":"g_sig"},"transform":[{"filter":"datum.label=='ns'"}],"mark":{"type":"text","fontSize":15,"baseline":"alphabetic","dy":-4,"color":"#222"},
"encoding":{"x":{"field":"xm","type":"quantitative","scale":{"domain":[0.31,8.51],"nice":false,"zero":false}},"y":{"field":"y","type":"quantitative","scale":{"domain":[0,2.5],"nice":false}},"text":{"field":"label"}}},
{"data":{"values":[{"x":0.8,"y":2.735,"t":"HT-29"}]},"mark":{"type":"text","fontSize":16,"baseline":"middle"},
"encoding":{"x":{"field":"x","type":"quantitative","scale":{"domain":[0.31,8.51],"nice":false,"zero":false}},"y":{"field":"y","type":"quantitative","scale":{"domain":[0,2.5],"nice":false}},"text":{"field":"t"}}},
{"data":{"values":[{"x":-2.07,"y":2.852,"t":"g"}]},"mark":{"type":"text","fontSize":18,"align":"left","baseline":"alphabetic"},
"encoding":{"x":{"field":"x","type":"quantitative","scale":{"domain":[0.31,8.51],"nice":false,"zero":false}},"y":{"field":"y","type":"quantitative","scale":{"domain":[0,2.5],"nice":false}},"text":{"field":"t"}}}
]}
],"spacing":55,"bounds":"flush","resolve":{"scale":{"color":"independent"},"legend":{"color":"independent"}}}
]
}
